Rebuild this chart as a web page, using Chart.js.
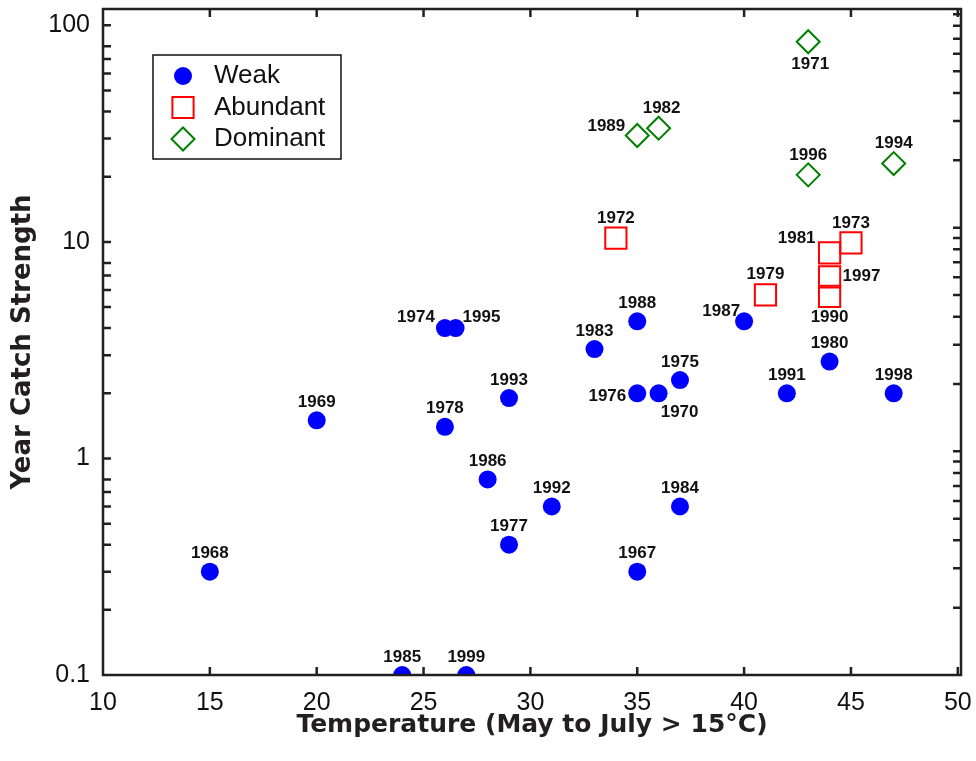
<!DOCTYPE html>
<html>
<head>
<meta charset="utf-8">
<title>Year Catch Strength vs Temperature</title>
<script src="https://cdn.jsdelivr.net/npm/chart.js@4.4.0/dist/chart.umd.min.js"></script>
<style>
  body { margin: 0; background: #fff; }
  #wrap { width: 976px; height: 761px; }
</style>
</head>
<body>
<div id="wrap"><canvas id="catch" width="976" height="761"></canvas></div>
<script>
// values: x = temperature (May to July > 15°C), y = year catch strength
var weakYears = [1968, 1969, 1985, 1999, 1974, 1995, 1978, 1986, 1993, 1977, 1992, 1983, 1988, 1976, 1970, 1975, 1984, 1967, 1987, 1991, 1980, 1998];
var weakTemp = [15, 20, 24, 27, 26, 26.5, 26, 28, 29, 29, 31, 33, 35, 35, 36, 37, 37, 35, 40, 42, 44, 47];
var weakStrength = [0.3, 1.5, 0.1, 0.1, 4, 4, 1.4, 0.8, 1.9, 0.4, 0.6, 3.2, 4.3, 2, 2, 2.3, 0.6, 0.3, 4.3, 2, 2.8, 2];

var abundantYears = [1972, 1979, 1981, 1973, 1997, 1990];
var abundantTemp = [34, 41, 44, 45, 44, 44];
var abundantStrength = [10.4, 5.7, 8.9, 9.9, 6.9, 5.6];

var dominantYears = [1971, 1989, 1982, 1996, 1994];
var dominantTemp = [43, 35, 36, 43, 47];
var dominantStrength = [84, 31, 33.5, 20.4, 23];

var xTicks = [10, 15, 20, 25, 30, 35, 40, 45, 50];
var yTickLabels = [0.1, 1, 10, 100];
var leftMantissas = [1, 2, 3, 4, 5, 6, 7, 8];
var rightMantissas = [1, 2, 3, 4, 5, 6, 7, 8, 9];
var decades = [0.1, 1, 10, 100];

function points(temps, vals) {
    return temps.map(function (t, i) { return { x: t, y: vals[i] }; });
}

function tickValues(mantissas) {
    var out = [];
    decades.forEach(function (d) {
        mantissas.forEach(function (m) { out.push(m * d); });
    });
    return out;
}

// where a year label sits relative to its marker: [dx, dy, align]
var labelNudge = {
    1974: [-10, -11, 'right'],
    1995: [7, -11, 'left'],
    1987: [-4, -10, 'right'],
    1976: [-11, 3, 'right'],
    1970: [21, 19, 'center'],
    1989: [-12, -9, 'right'],
    1981: [-14, -15, 'right'],
    1997: [13, 0, 'left'],
    1990: [0, 21, 'center'],
    1971: [2, 23, 'center'],
    1982: [3, -20, 'center']
};

var ink = '#231f20';
var fontFamily = '"Liberation Sans", Arial, Helvetica, sans-serif';
var titleFamily = '"DejaVu Sans", "Liberation Sans", Arial, sans-serif';

var frame = {
    id: 'frame',
    afterDatasetsDraw: function (chart) {
        var a = chart.chartArea, ctx = chart.ctx;
        var x = chart.scales.x, y = chart.scales.y, y2 = chart.scales.y2;
        ctx.save();
        ctx.strokeStyle = ink;
        ctx.lineWidth = 2.5;
        ctx.strokeRect(a.left, a.top, a.right - a.left, a.bottom - a.top);
        ctx.beginPath();
        xTicks.forEach(function (v) {
            var px = x.getPixelForValue(v);
            if (px <= a.left + 2 || px >= a.right - 2) return;
            ctx.moveTo(px, a.bottom); ctx.lineTo(px, a.bottom - 8);
            ctx.moveTo(px, a.top); ctx.lineTo(px, a.top + 8);
        });
        tickValues(leftMantissas).forEach(function (v) {
            var py = y.getPixelForValue(v);
            if (py <= a.top + 2 || py >= a.bottom - 2) return;
            ctx.moveTo(a.left, py); ctx.lineTo(a.left + 8, py);
        });
        tickValues(rightMantissas).forEach(function (v) {
            var py = y2.getPixelForValue(v);
            if (py <= a.top + 2 || py >= a.bottom - 2) return;
            ctx.moveTo(a.right, py); ctx.lineTo(a.right - 8, py);
        });
        ctx.stroke();
        ctx.restore();
    }
};

var yearLabels = {
    id: 'yearLabels',
    afterDatasetsDraw: function (chart) {
        var ctx = chart.ctx;
        ctx.save();
        ctx.font = 'bold 17px ' + fontFamily;
        ctx.fillStyle = '#111';
        ctx.textBaseline = 'middle';
        chart.data.datasets.forEach(function (ds, di) {
            chart.getDatasetMeta(di).data.forEach(function (pt, i) {
                var yr = ds.years[i];
                var n = labelNudge[yr] || [0, ds.pointStyle === 'circle' ? -18 : -20, 'center'];
                ctx.textAlign = n[2];
                ctx.fillText(String(yr), pt.x + n[0], pt.y + n[1]);
            });
        });
        ctx.restore();
    }
};

function marker(ctx, ds, cx, cy) {
    ctx.fillStyle = ds.backgroundColor;
    ctx.strokeStyle = ds.borderColor;
    ctx.lineWidth = ds.borderWidth;
    if (Chart.helpers && Chart.helpers.drawPoint) {
        Chart.helpers.drawPoint(ctx, { pointStyle: ds.pointStyle, radius: ds.pointRadius, borderWidth: ds.borderWidth, rotation: 0 }, cx, cy);
        return;
    }
    ctx.beginPath();
    ctx.arc(cx, cy, ds.pointRadius, 0, Math.PI * 2);
    ctx.fill();
    if (ds.borderWidth) ctx.stroke();
}

var boxLegend = {
    id: 'boxLegend',
    afterDraw: function (chart) {
        var a = chart.chartArea, ctx = chart.ctx;
        var bx = a.left + 50, by = a.top + 46;
        ctx.save();
        ctx.lineWidth = 1.5;
        ctx.strokeStyle = '#111';
        ctx.strokeRect(bx, by, 188, 104);
        ctx.font = '26px ' + fontFamily;
        ctx.textBaseline = 'middle';
        ctx.textAlign = 'left';
        chart.data.datasets.forEach(function (ds, i) {
            var ly = by + 21 + i * 31.5;
            marker(ctx, ds, bx + 30, ly);
            ctx.fillStyle = '#111';
            ctx.fillText(ds.label, bx + 61, ly);
        });
        ctx.restore();
    }
};

Chart.defaults.font.family = fontFamily;

var ctx = document.getElementById('catch').getContext('2d');
var chart = new Chart(ctx, {
    type: 'scatter',
    data: {
        datasets: [{
            label: 'Weak',
            years: weakYears,
            data: points(weakTemp, weakStrength),
            pointStyle: 'circle',
            pointRadius: 9,
            backgroundColor: '#0000ff',
            borderColor: '#0000ff',
            borderWidth: 0
        }, {
            label: 'Abundant',
            years: abundantYears,
            data: points(abundantTemp, abundantStrength),
            pointStyle: 'rect',
            pointRadius: 15,
            backgroundColor: 'rgba(0,0,0,0)',
            borderColor: '#ff0000',
            borderWidth: 2
        }, {
            label: 'Dominant',
            years: dominantYears,
            data: points(dominantTemp, dominantStrength),
            pointStyle: 'rectRot',
            pointRadius: 11.5,
            backgroundColor: 'rgba(0,0,0,0)',
            borderColor: '#008000',
            borderWidth: 2
        }]
    },
    options: {
        responsive: false,
        animation: false,
        layout: { autoPadding: false, padding: { top: 9, right: 15, left: 0, bottom: 0 } },
        plugins: {
            legend: { display: false },
            tooltip: { enabled: false }
        },
        scales: {
            x: {
                type: 'linear',
                min: 10,
                max: 50.15,
                grid: { display: false, drawTicks: false },
                border: { display: false },
                afterBuildTicks: function (s) { s.ticks = xTicks.map(function (v) { return { value: v }; }); },
                afterFit: function (s) { s.height = 86; s.paddingLeft = 0; s.paddingRight = 0; },
                ticks: {
                    autoSkip: false,
                    maxRotation: 0,
                    padding: 13,
                    color: '#111',
                    font: { size: 25 },
                    callback: function (v) { return String(v); }
                },
                title: {
                    display: true,
                    text: 'Temperature (May to July > 15°C)',
                    color: ink,
                    font: { family: titleFamily, size: 25, weight: 'bold' },
                    padding: { top: 0, bottom: 21 }
                }
            },
            y: {
                type: 'logarithmic',
                min: 0.1,
                max: 119,
                grid: { display: false, drawTicks: false },
                border: { display: false },
                afterBuildTicks: function (s) { s.ticks = yTickLabels.map(function (v) { return { value: v }; }); },
                afterFit: function (s) { s.width = 103; s.paddingTop = 0; s.paddingBottom = 0; },
                ticks: {
                    autoSkip: false,
                    padding: 13,
                    color: '#111',
                    font: { size: 25 },
                    callback: function (v) { return String(v); }
                },
                title: {
                    display: true,
                    text: 'Year Catch Strength',
                    color: ink,
                    font: { family: titleFamily, size: 26, weight: 'bold' },
                    padding: { top: 8, bottom: 0 }
                }
            },
            // the right-hand frame ticks sit on a slightly different log range in the original
            y2: {
                type: 'logarithmic',
                position: 'right',
                min: 0.1,
                max: 95,
                display: false
            }
        }
    },
    plugins: [frame, yearLabels, boxLegend]
});
</script>
</body>
</html>
